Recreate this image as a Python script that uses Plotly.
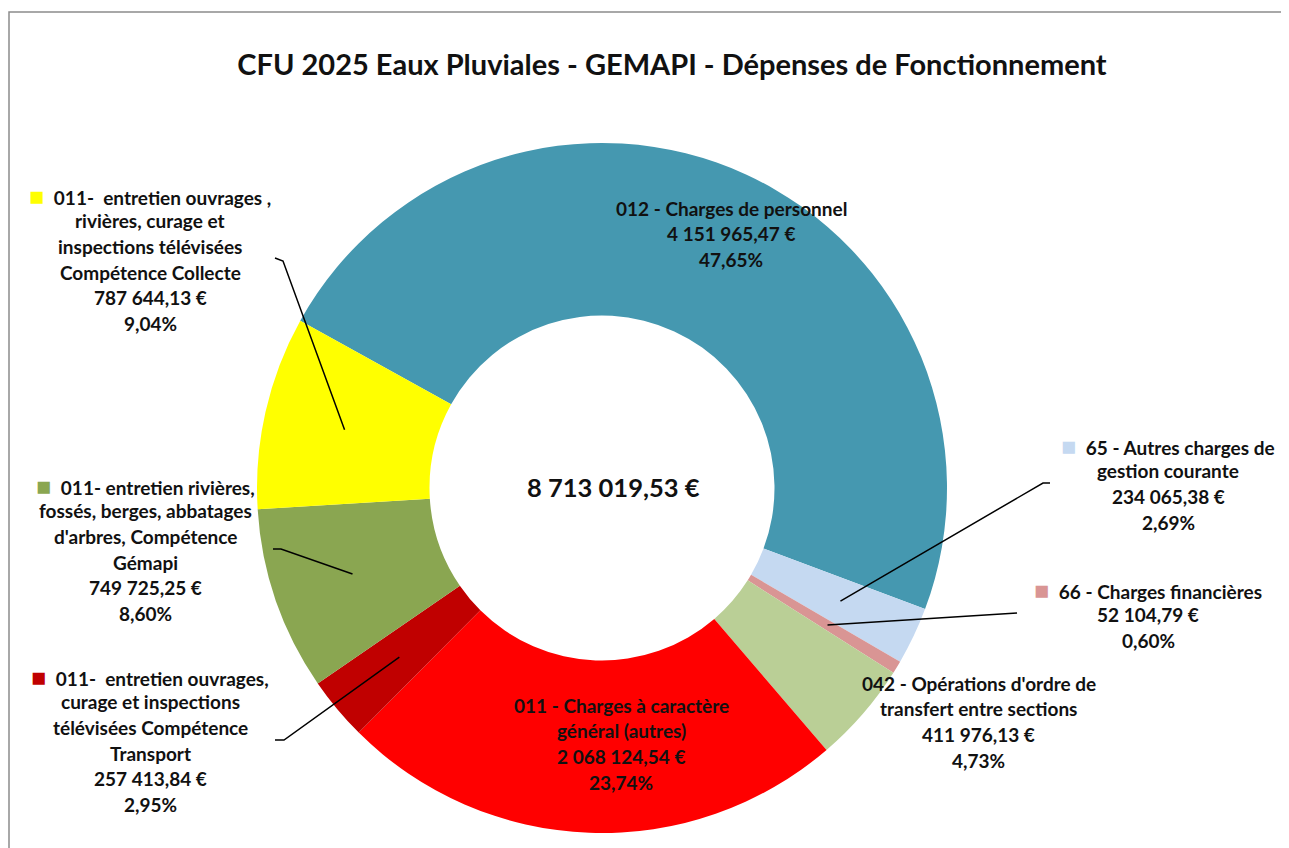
import math
import plotly.graph_objects as go

# ---------------- data ----------------
categories = [
    "012 - Charges de personnel",
    "65 - Autres charges de gestion courante",
    "66 - Charges financières",
    "042 - Opérations d'ordre de transfert entre sections",
    "011 - Charges à caractère général (autres)",
    "011- entretien ouvrages, curage et inspections télévisées Compétence Transport",
    "011- entretien rivières, fossés, berges, abbatages d'arbres, Compétence Gémapi",
    "011- entretien ouvrages , rivières, curage et inspections télévisées Compétence Collecte",
]
values = [4151965.47, 234065.38, 52104.79, 411976.13, 2068124.54, 257413.84, 749725.25, 787644.13]
label_lines = [
    ["012 - Charges de personnel"],
    ["65 - Autres charges de", "gestion courante"],
    ["66 - Charges financières"],
    ["042 - Opérations d'ordre de", "transfert entre sections"],
    ["011 - Charges à caractère", "général (autres)"],
    ["011-  entretien ouvrages,", "curage et inspections", "télévisées Compétence", "Transport"],
    ["011- entretien rivières,", "fossés, berges, abbatages", "d'arbres, Compétence", "Gémapi"],
    ["011-  entretien ouvrages ,", "rivières, curage et", "inspections télévisées", "Compétence Collecte"],
]
title_text = "CFU 2025 Eaux Pluviales - GEMAPI - Dépenses de Fonctionnement"

# ---------------- style ----------------
colors = ["#4598B0", "#C5D9F1", "#D99594", "#BACF96", "#FF0000", "#C00000", "#8AA651", "#FFFF00"]
show_key = [False, True, True, False, False, True, True, True]
# label block centre x, first line y (page pixels)
label_pos = [(731, 208), (1168, 445), (1148, 589), (979, 683),
             (621, 705), (150, 676), (145, 485), (150, 195)]
# leader lines: slice index -> outer points (page pixels), from slice outward
leaders = {
    7: [(283, 261), (275, 258)],
    6: [(281, 549), (273, 549)],
    5: [(284, 740), (275, 740)],
    1: [(1043, 483), (1050, 483)],
    2: [(1017, 613)],
}

OFF = 8                      # body margin of the page
W, H = 1289 - OFF, 848 - OFF
CX, CY, R = 602, 488, 345    # page pixels
HOLE = 0.5
ROT = 299
LINE_H = 25.7
FONT = "Lato"
FS = 19


def px(x):
    return (x - OFF) / W


def py(y):
    return 1 - (y - OFF) / H


def fr_money(v):
    s = f"{v:,.2f}"
    return s.replace(",", " ").replace(".", ",") + " €"


total = sum(values)

fig = go.Figure(go.Pie(
    labels=categories, values=values, sort=False, direction="clockwise",
    rotation=ROT, hole=HOLE, textinfo="none", hoverinfo="label+value+percent",
    marker=dict(colors=colors, line=dict(width=0)),
    domain=dict(x=[px(CX - R), px(CX + R)], y=[py(CY + R), py(CY - R)]),
    showlegend=False,
))

annotations = []
for i, lines in enumerate(label_lines):
    pct = values[i] / total * 100
    all_lines = list(lines) + [fr_money(values[i]), f"{pct:.2f}%".replace(".", ",")]
    x0, y0 = label_pos[i]
    for k, t in enumerate(all_lines):
        txt = f"<b>{t}</b>"
        if k == 0 and show_key[i]:
            txt = (f'<span style="color:{colors[i]};font-size:25px">■</span>  ' + txt)
        annotations.append(dict(
            x=px(x0), y=py(y0 + k * LINE_H), xref="paper", yref="paper",
            text=txt, showarrow=False, xanchor="center", yanchor="middle",
            font=dict(family=FONT, size=FS, color="#111111"),
        ))

annotations.append(dict(
    x=px(613), y=py(487), xref="paper", yref="paper",
    text=f"<b>{fr_money(total)}</b>", showarrow=False,
    xanchor="center", yanchor="middle",
    font=dict(family=FONT, size=25.5, color="#111111"),
))

shapes = []
cum = 0.0
mids = []
for v in values:
    mids.append(ROT + (cum + v / 2) / total * 360)
    cum += v
r_mid = R * (1 + HOLE) / 2 * 1.02
for idx, pts in leaders.items():
    a = math.radians(mids[idx])
    sx = CX + r_mid * math.sin(a)
    sy = CY - r_mid * math.cos(a)
    path = f"M {px(sx)} {py(sy)}"
    for (x, y) in pts:
        path += f" L {px(x)} {py(y)}"
    shapes.append(dict(type="path", path=path, xref="paper", yref="paper",
                       line=dict(color="#000000", width=1.5)))

# chart-area border
shapes.append(dict(type="rect", xref="paper", yref="paper",
                   x0=px(9), y0=py(12), x1=px(1310), y1=py(870),
                   line=dict(color="#8C8C8C", width=1.5), fillcolor="rgba(0,0,0,0)"))

fig.update_layout(
    width=W, height=H,
    margin=dict(l=0, r=0, t=0, b=0),
    paper_bgcolor="white", plot_bgcolor="white",
    title=dict(text=f"<b>{title_text}</b>", x=px(672), xanchor="center",
               y=py(65), yanchor="middle", yref="container",
               font=dict(family=FONT, size=29, color="#111111")),
    annotations=annotations, shapes=shapes,
)

fig.write_html("out.html")
